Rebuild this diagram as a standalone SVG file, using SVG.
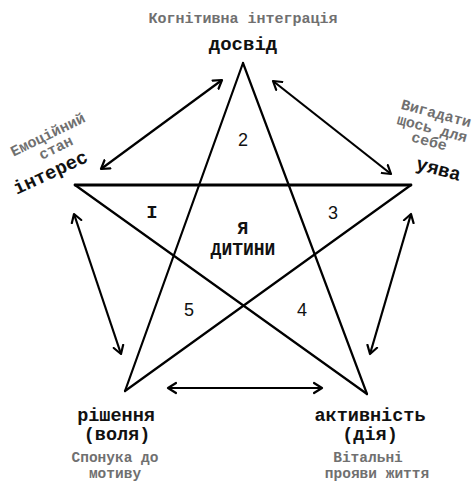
<svg xmlns="http://www.w3.org/2000/svg" width="474" height="482" viewBox="0 0 474 482">
<style>
.ln{stroke:#000;stroke-width:2.2;fill:none;stroke-linecap:round}
.ar{stroke:#000;stroke-width:2.2;fill:none;marker-start:url(#ah);marker-end:url(#ah)}
.lbl{font-family:"Liberation Mono","DejaVu Sans Mono",monospace;font-weight:bold;font-size:19px;fill:#111;text-anchor:middle}
.lb2{font-family:"Liberation Mono","DejaVu Sans Mono",monospace;font-weight:bold;font-size:18.5px;fill:#111;text-anchor:middle}
.sub{font-family:"Liberation Mono","DejaVu Sans Mono",monospace;font-size:15px;fill:#707070;text-anchor:middle;font-weight:bold}
.sb2{font-family:"Liberation Mono","DejaVu Sans Mono",monospace;font-size:14.5px;fill:#707070;text-anchor:middle;font-weight:bold}
.num{font-family:"Liberation Sans",Arial,sans-serif;font-size:18px;fill:#111;text-anchor:middle}
.ctr{font-family:"Liberation Mono",monospace;font-weight:bold;font-size:18px;fill:#111;text-anchor:middle}
</style>
<defs>
<marker id="ah" markerUnits="userSpaceOnUse" markerWidth="14" markerHeight="14" refX="9" refY="6" orient="auto-start-reverse" viewBox="0 0 14 12">
<path d="M1,1 L9,6 L1,11" fill="none" stroke="#000" stroke-width="2.2" stroke-linecap="round" stroke-linejoin="round"/>
</marker>
</defs>
<rect width="474" height="482" fill="#fff"/>
<g id="star">
<path class="ln" d="M243,63 L125,391"/>
<path class="ln" d="M243,63 L367,394"/>
<path class="ln" d="M75,185 L411,185" style="stroke-width:2.8"/>
<path class="ln" d="M75,185 L367,394"/>
<path class="ln" d="M411,185 L125,391"/>
</g>
<g id="connectors">
<line class="ar" x1="101" y1="169" x2="222" y2="80"/>
<line class="ar" x1="273" y1="81" x2="391" y2="174"/>
<line class="ar" x1="74" y1="214" x2="121" y2="354"/>
<line class="ar" x1="411" y1="214" x2="370" y2="354"/>
<line class="ar" x1="168" y1="388" x2="322" y2="388"/>
</g>
<g id="segments">
<text class="num" x="243" y="146">2</text>
<text class="ctr" x="152" y="218" style="font-size:19px">I</text>
<text class="num" x="333" y="219">3</text>
<text class="num" x="189" y="316">5</text>
<text class="num" x="302" y="316">4</text>
</g>
<g id="center">
<text class="ctr" x="243" y="234">Я</text>
<text class="ctr" x="243" y="255">ДИТИНИ</text>
</g>
<g id="dosvid">
<text class="sub" x="243" y="23">Когнітивна інтеграція</text>
<text class="lbl" x="243" y="50">досвід</text>
</g>
<g id="interes">
<text class="sub" transform="translate(50,139) rotate(-26)">Емоційний</text>
<text class="sub" transform="translate(58,152) rotate(-26)">стан</text>
<text class="lbl" transform="translate(53,178) rotate(-25)">інтерес</text>
</g>
<g id="uyava">
<text class="sub" transform="translate(435,118) rotate(15)">Вигадати</text>
<text class="sub" transform="translate(431,133) rotate(15)">щось для</text>
<text class="sub" transform="translate(428,146) rotate(15)">себе</text>
<text class="lbl" transform="translate(437,175) rotate(15)">уява</text>
</g>
<g id="rishennya">
<text class="lb2" x="116" y="421">рішення</text>
<text class="lb2" x="117" y="440">(воля)</text>
<text class="sb2" x="115" y="462">Спонука до</text>
<text class="sb2" x="115" y="478">мотиву</text>
</g>
<g id="aktyvnist">
<text class="lb2" x="370" y="421">активність</text>
<text class="lb2" x="370" y="440">(дія)</text>
<text class="sb2" x="368" y="462">Вітальні</text>
<text class="sb2" x="377" y="478">прояви життя</text>
</g>
</svg>
